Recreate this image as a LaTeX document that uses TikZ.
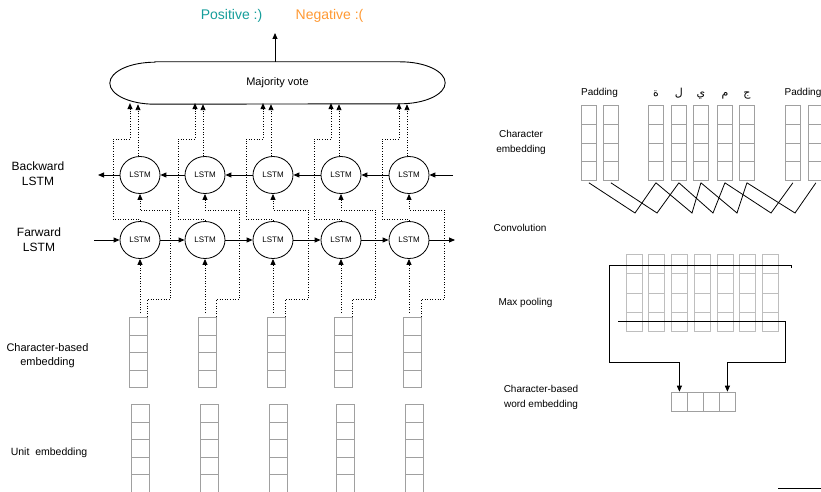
\documentclass[tikz,border=0pt]{standalone}
\usepackage{fontspec}
\setmainfont{Liberation Sans}
\newfontfamily\arabicfont[Script=Arabic]{DejaVu Sans}
\TeXXeTstate=1
\usetikzlibrary{shapes.geometric,arrows.meta,positioning}

\definecolor{poscol}{RGB}{22,158,155}
\definecolor{negcol}{RGB}{255,153,51}
\definecolor{cellgray}{RGB}{160,160,160}
\definecolor{poolgray}{RGB}{190,190,190}

\tikzset{
  lstm/.style={draw, ellipse, line width=0.8pt, minimum width=40pt, minimum height=37pt,
    inner sep=0pt, font=\fontsize{8}{9}\selectfont},
  cell/.style={draw=cellgray, line width=0.8pt, inner sep=0pt, anchor=north west},
  arr/.style={line width=0.9pt, -{Triangle[length=6pt,width=5pt]}},
  dotarr/.style={line width=0.9pt, dash pattern=on 1pt off 1.6pt, -{Triangle[length=6pt,width=5pt]}},
  conv/.style={line width=0.8pt},
  lbl/.style={align=center, font=\fontsize{10}{15}\selectfont},
  biglbl/.style={align=center, font=\fontsize{12}{15}\selectfont},
}

\begin{document}
\begin{tikzpicture}[x=1pt, y=-1pt]
  \useasboundingbox (0,0) rectangle (821,492);

  % classes
  \node[text=poscol, font=\fontsize{14}{16}\selectfont] (pos) at (231.5,16) {Positive :)};
  \node[text=negcol, font=\fontsize{14}{16}\selectfont] (neg) at (329.5,16) {Negative :(};

  % majority vote
  \node[minimum width=335pt, minimum height=42pt, font=\fontsize{11}{13}\selectfont] (vote) at (277.5,83) {Majority vote};
  \draw[line width=0.9pt] ([xshift=45pt]vote.north west) -- ([xshift=-45pt]vote.north east)
    arc[start angle=90, end angle=-90, x radius=45pt, y radius=21pt]
    -- ([xshift=45pt]vote.south west)
    arc[start angle=270, end angle=90, x radius=45pt, y radius=21pt] -- cycle;
  \coordinate (res) at (275,33);
  \draw[arr] (res |- vote.north) -- (res);

  % bidirectional LSTM
  \foreach \i/\x in {1/140,2/205,3/273,4/341,5/409} {
    \node[lstm] (b\i) at (\x,175) {LSTM};
    \node[lstm] (f\i) at (\x,240) {LSTM};
  }
  \coordinate (bout) at (98,175);
  \coordinate (bin) at (453,175);
  \coordinate (fin) at (94,240);
  \coordinate (fout) at (455,240);
  \draw[arr] (b1) -- (bout);
  \draw[arr] (bin) -- (b5);
  \draw[arr] (fin) -- (f1);
  \draw[arr] (f5) -- (fout);
  \foreach \i/\j in {1/2,2/3,3/4,4/5} {
    \draw[arr] (b\j) -- (b\i);
    \draw[arr] (f\i) -- (f\j);
  }

  % embeddings
  \foreach \i/\x in {1/129,2/198,3/267,4/334,5/403} {
    \foreach \k in {1,...,4}
      \node[cell, minimum width=18pt, minimum height=17.5pt] (c\i-\k) at (\x,{317+17.5*(\k-1)}) {};
    \foreach \k in {1,...,5}
      \node[cell, minimum width=18pt, minimum height=17.5pt] (u\i-\k) at ({\x+1.5},{404+17.5*(\k-1)}) {};
  }

  % dotted inputs and outputs
  \foreach \i in {1,...,5} {
    \draw[dotarr, shorten <=4pt] (f\i.south |- c\i-1.north) -- (f\i.south);
    \draw[dotarr] (c\i-1.north east) -- ++(0,-18) -| ++(23,-89) -| (b\i.south);
    \draw[dotarr] (f\i.north) |- ++(-27,-2) |- ++(17,-80) -- ++(0,-36);
    \draw[dotarr] ([xshift=-2pt]b\i.north) -- ([xshift=-2pt]b\i.north |- vote.south);
  }

  % left labels
  \node[biglbl] (bwl) at (38,174) {Backward\\LSTM};
  \node[biglbl] (fwl) at (39,240) {Farward\\LSTM};
  \node[align=center, font=\fontsize{11}{14}\selectfont] (cbl) at (47.5,356) {Character-based\\embedding};
  \node[font=\fontsize{10.5}{13}\selectfont] (unl) at (49,453) {Unit\ \ embedding};

  % right labels
  \node[lbl] (cel) at (521,142) {Character\\embedding};
  \node[lbl] (cvl) at (520,228) {Convolution};
  \node[lbl] (mpl) at (525.5,303) {Max pooling};
  \node[lbl] (wel) at (541,397) {Character-based\\word embedding};

  % character embedding
  \foreach \i/\x in {1/581,2/603,3/648,4/671,5/693,6/717,7/739,8/785,9/808}
    \foreach \k in {1,...,4}
      \node[cell, minimum width=15pt, minimum height=18.75pt] (ch\i-\k) at (\x,{105+18.75*(\k-1)}) {};
  \node[lbl, anchor=base] (pad1) at (599.5,96) {Padding};
  \node[lbl, anchor=base] (pad2) at (803,96) {Padding};
  \foreach \i/\l in {3/ة,4/ل,5/ي,6/م,7/ج}
    \node[font=\arabicfont\fontsize{11}{13}\selectfont, anchor=base] (ar\i) at (ch\i-1.north |- 0,97) {\beginR\l\endR};

  % convolution
  \foreach \a/\b/\m in {1/3/635,2/4/657,3/5/692,4/6/713,5/7/737,6/8/771,7/9/795}
    \draw[conv] ([yshift=-2pt]ch\a-4.south) -- (\m,213) -- ([yshift=-2pt]ch\b-4.south);

  % max pooling
  \foreach \i/\x in {1/626,2/648,3/671,4/694,5/717,6/739,7/762}
    \foreach \k in {1,...,4}
      \node[cell, draw=poolgray, minimum width=15.5pt, minimum height=19.25pt] (mp\i-\k) at (\x,{254+19.25*(\k-1)}) {};

  % character-based word embedding
  \foreach \k/\x in {1/671,2/687,3/703,4/719}
    \node[cell, minimum width=16pt, minimum height=19pt] (w\k) at (\x,391.7) {};

  \coordinate (mxa) at (791,268);
  \coordinate (mxb) at (618,321);
  \draw[arr] (mxa) -- (791,265) -- (609,265) -- (609,362) -| (w1.north);
  \draw[arr] (mxb) -- (785,321) -- (785,362) -| (w4.north);

  \draw[line width=0.9pt] (778,488) -- (821,488);
\end{tikzpicture}
\end{document}
